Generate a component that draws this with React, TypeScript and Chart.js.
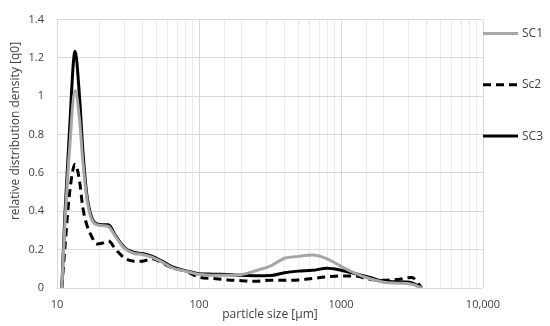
import { useEffect, useRef } from "react";
import { Chart, registerables } from "chart.js";

Chart.register(...registerables);

// particle sizes in µm
const sizes = [
  10.8, 11.4, 12.2, 13.4, 14.4, 15.2, 16.2, 17.5, 19, 21,
  23, 26, 30, 35, 40, 47, 55, 65, 80, 100,
  125, 160, 200, 250, 320, 400, 500, 630, 800, 1000,
  1250, 1600, 2000, 2500, 3150, 3700,
];

const sc1 = [
  0, 0.35, 0.7, 1.03, 0.88, 0.66, 0.47, 0.36, 0.33, 0.325,
  0.32, 0.265, 0.205, 0.18, 0.175, 0.16, 0.135, 0.105, 0.088, 0.072,
  0.066, 0.066, 0.07, 0.09, 0.115, 0.155, 0.165, 0.172, 0.152, 0.113,
  0.078, 0.048, 0.03, 0.025, 0.02, 0,
];

const sc2 = [
  0, 0.22, 0.48, 0.645, 0.56, 0.42, 0.33, 0.27, 0.23, 0.235,
  0.245, 0.2, 0.155, 0.14, 0.14, 0.153, 0.13, 0.105, 0.088, 0.057,
  0.05, 0.042, 0.038, 0.035, 0.04, 0.04, 0.042, 0.05, 0.058, 0.063,
  0.063, 0.045, 0.04, 0.045, 0.055, 0,
];

const sc3 = [
  0, 0.4, 0.8, 1.235, 1.0, 0.72, 0.49, 0.37, 0.335, 0.33,
  0.33, 0.27, 0.21, 0.185, 0.18, 0.165, 0.14, 0.11, 0.09, 0.075,
  0.072, 0.07, 0.066, 0.064, 0.065, 0.08, 0.088, 0.092, 0.103, 0.093,
  0.076, 0.055, 0.035, 0.033, 0.028, 0,
];

const seriesLabels = ["SC1", "Sc2", "SC3"];
const majorXTicks = [10, 100, 1000, 10000];
const xTickLabels = ["10", "100", "1000", "10,000"];
const yTitle = "relative distribution density [q0]";
const xTitle = "particle size [µm]";

const FONT = "'Open Sans'";
const TEXT = "#404040";

const toPoints = (vals: number[]) => sizes.map((s, i) => ({ x: s, y: vals[i] }));

const overlayPlugin = {
  id: "overlay",
  afterDraw(chart: any) {
    const { ctx, chartArea } = chart;
    ctx.save();
    // y axis title
    ctx.fillStyle = TEXT;
    ctx.font = `12px ${FONT}`;
    ctx.textAlign = "center";
    ctx.textBaseline = "middle";
    ctx.translate(16, 131);
    ctx.rotate(-Math.PI / 2);
    ctx.fillText(yTitle, 0, 0);
    ctx.restore();

    // legend
    ctx.save();
    const x0 = chartArea.right;
    chart.data.datasets.forEach((ds: any, i: number) => {
      const y = 33.5 + i * 51.3;
      ctx.strokeStyle = ds.borderColor;
      ctx.lineWidth = ds.borderWidth;
      ctx.setLineDash(ds.borderDash || []);
      ctx.beginPath();
      ctx.moveTo(x0, y);
      ctx.lineTo(x0 + 35, y);
      ctx.stroke();
      ctx.setLineDash([]);
      ctx.fillStyle = TEXT;
      ctx.font = `12px ${FONT}`;
      ctx.textAlign = "left";
      ctx.textBaseline = "middle";
      ctx.fillText(ds.label, x0 + 39, y);
    });
    ctx.restore();
  },
};

export default function App() {
  const ref = useRef<HTMLCanvasElement | null>(null);

  useEffect(() => {
    if (!ref.current) return;
    const chart = new Chart(ref.current, {
      type: "line",
      data: {
        datasets: [
          {
            label: seriesLabels[0],
            data: toPoints(sc1),
            borderColor: "#a6a6a6",
            borderWidth: 3,
            pointRadius: 0,
            cubicInterpolationMode: "monotone",
          },
          {
            label: seriesLabels[1],
            data: toPoints(sc2),
            borderColor: "#000000",
            borderWidth: 3,
            borderDash: [8, 5],
            pointRadius: 0,
            cubicInterpolationMode: "monotone",
          },
          {
            label: seriesLabels[2],
            data: toPoints(sc3),
            borderColor: "#000000",
            borderWidth: 3,
            pointRadius: 0,
            cubicInterpolationMode: "monotone",
          },
        ],
      } as any,
      options: {
        animation: false,
        responsive: true,
        maintainAspectRatio: false,
        layout: { padding: { top: 11, right: 67, left: 0, bottom: 0 } },
        plugins: {
          legend: { display: false },
          tooltip: { enabled: false },
        },
        scales: {
          x: {
            type: "logarithmic",
            min: 10,
            max: 10000,
            border: { display: false },
            grid: {
              drawTicks: false,
              color: (c: any) =>
                c.tick && majorXTicks.includes(c.tick.value) ? "#d9d9d9" : "#ebebeb",
            },
            ticks: {
              autoSkip: false,
              maxRotation: 0,
              padding: 10,
              color: TEXT,
              font: { family: FONT, size: 11 },
              callback: (v: any) => {
                const idx = majorXTicks.indexOf(Number(v));
                return idx >= 0 ? xTickLabels[idx] : "";
              },
            },
            title: {
              display: true,
              text: xTitle,
              color: TEXT,
              font: { family: FONT, size: 12 },
              padding: { top: 0, bottom: 4 },
            },
            afterFit: (s: any) => {
              s.height = 38;
            },
          } as any,
          y: {
            min: 0,
            max: 1.4,
            border: { display: false },
            grid: { drawTicks: false, color: "#d9d9d9" },
            ticks: {
              stepSize: 0.2,
              padding: 13,
              color: TEXT,
              font: { family: FONT, size: 11 },
              callback: (v: any) => String(Math.round(Number(v) * 10) / 10),
            },
            afterFit: (s: any) => {
              s.width = 57;
            },
          } as any,
        },
      },
      plugins: [overlayPlugin],
    });
    return () => chart.destroy();
  }, []);

  return (
    <div style={{ position: "absolute", left: 0, top: 0, width: 550, height: 326 }}>
      <canvas ref={ref} />
    </div>
  );
}
